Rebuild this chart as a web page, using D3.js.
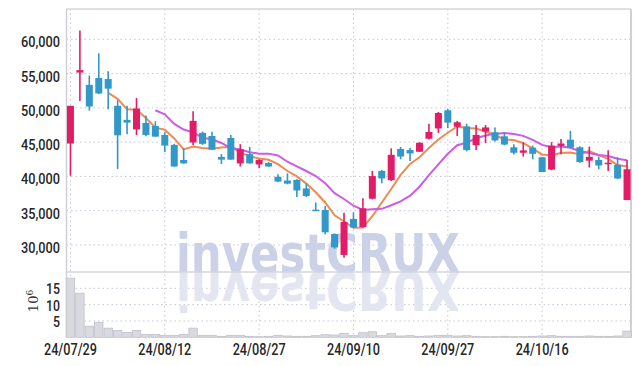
<!DOCTYPE html>
<html>
<head>
<meta charset="utf-8">
<script src="https://cdn.jsdelivr.net/npm/d3@7"></script>
<style>
  body { margin: 0; background: #fff; }
  svg { display: block; }
  .tick-y, .tick-x { font-family: "Roboto", "Liberation Sans", sans-serif; fill: #262626; }
</style>
</head>
<body>
<script>
// trading days, 24/07/29 .. 24/10/29
var dates = ["24/07/29","24/07/30","24/07/31","24/08/01","24/08/02","24/08/05","24/08/06","24/08/07","24/08/08","24/08/09",
             "24/08/12","24/08/13","24/08/14","24/08/16","24/08/19","24/08/20","24/08/21","24/08/22","24/08/23","24/08/26",
             "24/08/27","24/08/28","24/08/29","24/08/30","24/09/02","24/09/03","24/09/04","24/09/05","24/09/06","24/09/09",
             "24/09/10","24/09/11","24/09/12","24/09/13","24/09/19","24/09/20","24/09/23","24/09/24","24/09/25","24/09/26",
             "24/09/27","24/09/30","24/10/02","24/10/04","24/10/07","24/10/08","24/10/10","24/10/11","24/10/14","24/10/15",
             "24/10/16","24/10/17","24/10/18","24/10/21","24/10/22","24/10/23","24/10/24","24/10/25","24/10/28","24/10/29"];

var opens  = [44800,55150,53350,54350,54200,50300,48250,46850,47800,47350,
              46050,44600,42400,44950,46350,45900,42850,45600,41900,43250,
              41750,41950,39950,39400,39500,38250,35150,35100,31600,28550,
              33800,32600,36750,40800,39450,44000,43850,43600,45500,47000,
              49650,47250,47300,44550,46550,46450,45850,44250,43450,44200,
              42800,41000,44450,45350,44250,42300,42400,41800,41700,36550];
var highs  = [50300,61300,54700,57950,55350,51100,50300,51450,48900,48050,
              46450,44750,44100,49500,46550,46500,43250,46050,44700,44300,
              42500,42100,40300,40450,39600,38950,36200,35700,31700,34700,
              34750,36800,40800,40950,44100,44300,44200,45000,47700,49400,
              49850,48100,47700,47500,47500,47150,46400,44700,45000,44500,
              42850,45000,45450,46650,44400,44350,42900,43800,42800,42400];
var lows   = [40100,51000,49600,52000,49800,41100,46150,46050,45850,45800,
              43550,41400,41850,44600,44600,43900,41800,42450,41450,41850,
              41200,41400,39150,38850,37000,37000,35100,31550,29450,28150,
              32450,32600,36650,39000,39350,42500,42250,43600,45400,46350,
              47050,45900,43650,43850,44850,45100,44550,43200,42900,42500,
              40650,40900,43250,44200,42000,41300,41050,40800,39600,36550];
var closes = [50300,55500,50200,52100,52800,46000,47850,49900,46050,45800,
              44500,41450,41900,48100,44750,43900,42450,42450,43950,41900,
              42400,41450,39250,38950,37950,37150,35100,31850,29650,33350,
              32550,35350,40050,39700,43150,42900,43350,44900,46500,49250,
              47850,47900,43850,46050,47150,45250,44650,43450,43800,43300,
              40650,44500,44800,44200,42100,42850,41600,42000,39700,41050];
// volume in millions of shares
var volumes = [18.1,13.5,3.4,4.6,2.8,2.1,1.5,2.1,0.9,0.9,
               0.6,0.6,0.9,2.8,0.6,0.6,0.3,0.6,0.6,0.3,
               0.2,0.3,0.6,0.4,0.3,0.3,0.5,0.8,0.7,1.2,
               0.5,1.4,1.7,0.5,1.2,0.4,0.5,0.3,0.4,0.6,
               0.6,0.4,0.5,0.3,0.2,0.2,0.3,0.2,0.2,0.3,
               0.4,0.5,0.3,0.3,0.3,0.4,0.3,0.3,0.4,1.9];

var priceTicks = [30000, 35000, 40000, 45000, 50000, 55000, 60000];
var volTicks = [5, 10, 15];
var xTickDates = ["24/07/29","24/08/12","24/08/27","24/09/10","24/09/27","24/10/16"];
var maPeriods = [5, 10];

function CandleChart() {
    var width = 639, height = 366;
    var left = 66.5, right = 631, plotTop = 9, priceBottom = 272, volBottom = 337.3;
    var upColor = "#e31c67", downColor = "#3297c9";
    var gridStyle = function(sel) {
        sel.style("stroke", "#c4c6d6").style("stroke-width", 1).style("stroke-dasharray", "1.5,3");
    };

    var svg = d3.select("body").append("svg").attr("width", width).attr("height", height);

    var x = d3.scalePoint().domain(dates).range([left, right]).padding(0.42);
    var yPrice = d3.scaleLinear().domain([26060, 64420]).range([priceBottom, plotTop]);
    var yVol = d3.scaleLinear().domain([0, 20]).range([volBottom, priceBottom]);

    //GRID.
    var grid = svg.append("g");
    grid.selectAll("line.hp").data(priceTicks).enter().append("line")
        .attr("x1", left).attr("x2", right).attr("y1", function(d) { return yPrice(d); }).attr("y2", function(d) { return yPrice(d); })
        .call(gridStyle);
    grid.selectAll("line.hv").data(volTicks).enter().append("line")
        .attr("x1", left).attr("x2", right).attr("y1", function(d) { return yVol(d); }).attr("y2", function(d) { return yVol(d); })
        .call(gridStyle);
    grid.selectAll("line.v").data(xTickDates).enter().append("line")
        .attr("x1", function(d) { return x(d); }).attr("x2", function(d) { return x(d); })
        .attr("y1", plotTop).attr("y2", volBottom)
        .call(gridStyle);

    //WATERMARK + reflection.
    var wmStyle = function(sel) {
        sel.attr("textLength", 284).attr("lengthAdjust", "spacingAndGlyphs")
           .style("font-family", "DejaVu Sans, sans-serif").style("font-weight", "bold").style("font-size", "54px");
    };
    svg.append("clipPath").attr("id", "volclip").append("rect")
        .attr("x", left).attr("y", priceBottom).attr("width", right - left).attr("height", volBottom - priceBottom);
    svg.append("text").text("investCRUX")
        .attr("x", 176).attr("y", priceBottom)
        .call(wmStyle).style("fill", "#cbd1e7");
    svg.append("g").attr("clip-path", "url(#volclip)").append("text").text("investCRUX")
        .attr("x", 176).attr("y", 0)
        .attr("transform", "translate(0," + priceBottom + ") scale(1,-1)")
        .call(wmStyle).style("fill", "#e3e6f1");

    //FRAME.
    svg.append("line").attr("x1", left).attr("x2", right).attr("y1", plotTop).attr("y2", plotTop).style("stroke", "#d4d4dc").style("stroke-width", 1.5);
    svg.append("line").attr("x1", left).attr("x2", right).attr("y1", priceBottom).attr("y2", priceBottom).style("stroke", "#d4d4dc").style("stroke-width", 1.5);
    svg.append("line").attr("x1", left).attr("x2", left).attr("y1", plotTop).attr("y2", volBottom).style("stroke", "#d0d0d8").style("stroke-width", 1.5);
    svg.append("line").attr("x1", right).attr("x2", right).attr("y1", plotTop).attr("y2", volBottom).style("stroke", "#d0d0d8").style("stroke-width", 2);

    //VOLUME.
    var bw = x.step() - 1;
    svg.append("g").selectAll("rect").data(volumes).enter().append("rect")
        .attr("x", function(d, i) { return x(dates[i]) - bw / 2; })
        .attr("y", function(d) { return yVol(d); })
        .attr("width", bw)
        .attr("height", function(d) { return yVol(0) - yVol(d); })
        .style("fill", "#d9d9e0").style("stroke", "#bfc0ca").style("stroke-width", 0.8);

    //MOVING AVERAGES (from closes).
    var maColors = ["#ef8a52", "#cc5ce6"];
    maPeriods.forEach(function(p, k) {
        var ma = closes.map(function(c, i) {
            if (i < p - 1) return null;
            return d3.mean(closes.slice(i - p + 1, i + 1));
        });
        var line = d3.line()
            .defined(function(d) { return d !== null; })
            .x(function(d, i) { return x(dates[i]); })
            .y(function(d) { return yPrice(d); });
        svg.append("path").datum(ma).attr("d", line)
            .style("fill", "none").style("stroke", maColors[k]).style("stroke-width", 2);
    });

    //CANDLES.
    var cw = 7;
    var candles = svg.append("g").selectAll("g").data(dates).enter().append("g");
    candles.append("line")
        .attr("x1", function(d) { return x(d); }).attr("x2", function(d) { return x(d); })
        .attr("y1", function(d, i) { return yPrice(highs[i]); })
        .attr("y2", function(d, i) { return yPrice(lows[i]); })
        .style("stroke", function(d, i) { return closes[i] >= opens[i] ? upColor : downColor; })
        .style("stroke-width", 1.6);
    candles.append("rect")
        .attr("x", function(d) { return x(d) - cw / 2; })
        .attr("y", function(d, i) { return yPrice(Math.max(opens[i], closes[i])); })
        .attr("width", cw)
        .attr("height", function(d, i) { return Math.max(1.5, Math.abs(yPrice(opens[i]) - yPrice(closes[i]))); })
        .style("fill", function(d, i) { return closes[i] >= opens[i] ? upColor : downColor; });

    //AXES TEXT.
    svg.append("g").selectAll("text").data(priceTicks).enter().append("text")
        .attr("class", "tick-y")
        .attr("x", 60).attr("y", function(d) { return yPrice(d) + 8; })
        .attr("text-anchor", "end").style("font-size", "15px").style("font-weight", 500)
        .attr("textLength", 39).attr("lengthAdjust", "spacingAndGlyphs")
        .text(function(d) { return d3.format(",")(d); });
    svg.append("g").selectAll("text").data(volTicks).enter().append("text")
        .attr("class", "tick-y")
        .attr("x", 60).attr("y", function(d) { return yVol(d) + 6; })
        .attr("text-anchor", "end").style("font-size", "15px").style("font-weight", 500)
        .attr("textLength", function(d) { return d < 10 ? 7 : 14; }).attr("lengthAdjust", "spacingAndGlyphs")
        .text(function(d) { return d; });
    var unit = svg.append("text")
        .attr("transform", "translate(38,301) rotate(-90)")
        .attr("text-anchor", "middle").style("font-size", "13px").style("font-family", "DejaVu Serif, serif").style("fill", "#333");
    unit.append("tspan").text("10");
    unit.append("tspan").attr("dy", -5).style("font-size", "9px").text("6");
    svg.append("g").selectAll("text").data(xTickDates).enter().append("text")
        .attr("class", "tick-x")
        .attr("x", function(d) { return x(d); }).attr("y", 355)
        .attr("text-anchor", "middle").style("font-size", "16px").style("font-weight", 500)
        .attr("textLength", 53).attr("lengthAdjust", "spacingAndGlyphs")
        .text(function(d) { return d; });
}

CandleChart();
</script>
</body>
</html>
